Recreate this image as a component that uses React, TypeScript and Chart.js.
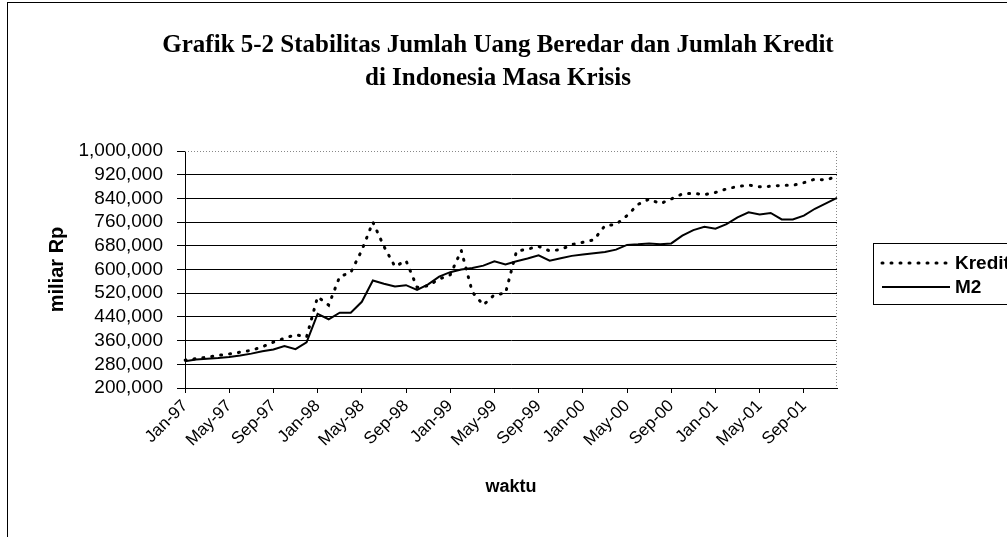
import React, { useEffect, useRef } from "react";
import { Chart, registerables } from "chart.js";

Chart.register(...registerables);

const months = [
  "Jan-97","Feb-97","Mar-97","Apr-97","May-97","Jun-97","Jul-97","Aug-97","Sep-97","Oct-97","Nov-97","Dec-97",
  "Jan-98","Feb-98","Mar-98","Apr-98","May-98","Jun-98","Jul-98","Aug-98","Sep-98","Oct-98","Nov-98","Dec-98",
  "Jan-99","Feb-99","Mar-99","Apr-99","May-99","Jun-99","Jul-99","Aug-99","Sep-99","Oct-99","Nov-99","Dec-99",
  "Jan-00","Feb-00","Mar-00","Apr-00","May-00","Jun-00","Jul-00","Aug-00","Sep-00","Oct-00","Nov-00","Dec-00",
  "Jan-01","Feb-01","Mar-01","Apr-01","May-01","Jun-01","Jul-01","Aug-01","Sep-01","Oct-01","Nov-01","Dec-01",
];

const kredit = [
  294000, 299000, 304000, 310000, 315000, 321000, 327000, 339000, 355000, 368000, 380000, 372000,
  508000, 480000, 576000, 590000, 665000, 760000, 678000, 610000, 630000, 540000, 545000, 568000,
  582000, 664000, 524000, 480000, 515000, 520000, 662000, 669000, 678000, 663000, 667000, 684000,
  692000, 700000, 748000, 752000, 782000, 820000, 838000, 822000, 838000, 855000, 857000, 853000,
  860000, 872000, 880000, 885000, 879000, 881000, 884000, 884000, 893000, 905000, 902000, 915000,
];

const m2 = [
  290000, 296000, 299000, 301000, 305000, 310000, 316000, 324000, 330000, 342000, 331000, 354000,
  450000, 432000, 454000, 454000, 491000, 563000, 552000, 543000, 547000, 531000, 550000, 576000,
  591000, 600000, 605000, 613000, 628000, 617000, 628000, 637000, 648000, 630000, 638000, 646000,
  651000, 655000, 659000, 667000, 683000, 685000, 688000, 685000, 688000, 714000, 733000, 744000,
  738000, 753000, 776000, 793000, 786000, 791000, 769000, 769000, 782000, 805000, 823000, 842000,
];

const yMin = 200000;
const yMax = 1000000;
const yStep = 80000;

const titleLines = [
  "Grafik 5-2 Stabilitas Jumlah Uang Beredar dan Jumlah Kredit",
  "di Indonesia Masa Krisis",
];
const yTitle = "miliar Rp";
const xTitle = "waktu";
const seriesNames = ["Kredit", "M2"];

const SANS = '"Liberation Sans", Arial, sans-serif';
const SERIF = '"Liberation Serif", "Times New Roman", serif';

const decorPlugin = {
  id: "decor",
  beforeDraw(chart: any) {
    const ctx = chart.ctx;
    ctx.save();
    ctx.fillStyle = "#fff";
    ctx.fillRect(0, 0, chart.width, chart.height);
    ctx.restore();
  },
  afterDraw(chart: any) {
    const ctx = chart.ctx;
    const { left, right, top, bottom } = chart.chartArea;
    ctx.save();
    // outer frame
    ctx.strokeStyle = "#000";
    ctx.lineWidth = 1;
    ctx.strokeRect(7.5, 2.5, chart.width + 20, chart.height + 20);
    // dotted plot border (top and right)
    ctx.strokeStyle = "#888";
    ctx.setLineDash([1, 2]);
    ctx.beginPath();
    ctx.moveTo(left, top + 0.5);
    ctx.lineTo(right, top + 0.5);
    ctx.moveTo(right - 0.5, top);
    ctx.lineTo(right - 0.5, bottom);
    ctx.stroke();
    ctx.setLineDash([]);
    // title
    ctx.fillStyle = "#000";
    ctx.textAlign = "center";
    ctx.textBaseline = "middle";
    ctx.font = `bold 25px ${SERIF}`;
    ctx.fillText(titleLines[0], 498, 46);
    ctx.fillText(titleLines[1], 498, 79);
    // legend
    const lx = 873.5, ly = 243.5;
    ctx.strokeStyle = "#000";
    ctx.lineWidth = 1;
    ctx.strokeRect(lx, ly, 200, 61);
    const ds = chart.data.datasets;
    const rows = [263, 287];
    rows.forEach((ry, i) => {
      const d = ds[i];
      ctx.save();
      ctx.strokeStyle = d.borderColor;
      ctx.lineWidth = d.borderWidth;
      ctx.lineCap = d.borderCapStyle || "butt";
      ctx.setLineDash(d.borderDash || []);
      ctx.beginPath();
      ctx.moveTo(882, ry);
      ctx.lineTo(950, ry);
      ctx.stroke();
      ctx.restore();
      ctx.fillStyle = "#000";
      ctx.textAlign = "left";
      ctx.textBaseline = "middle";
      ctx.font = `bold 19px ${SANS}`;
      ctx.fillText(d.label, 955, ry + 1);
    });
    ctx.restore();
  },
};

export default function App() {
  const ref = useRef<HTMLCanvasElement | null>(null);
  useEffect(() => {
    if (!ref.current) return;
    const chart = new Chart(ref.current, {
      type: "line",
      data: {
        labels: months,
        datasets: [
          {
            label: seriesNames[0],
            data: kredit,
            borderColor: "#000",
            borderWidth: 3,
            borderDash: [1, 8],
            borderCapStyle: "round",
            pointRadius: 0,
            tension: 0,
            fill: false,
          },
          {
            label: seriesNames[1],
            data: m2,
            borderColor: "#000",
            borderWidth: 2,
            pointRadius: 0,
            tension: 0,
            fill: false,
          },
        ],
      },
      options: {
        responsive: false,
        animation: false,
        events: [],
        layout: { padding: { left: 41, top: 151, right: 170, bottom: 35 } },
        plugins: {
          legend: { display: false },
          title: { display: false },
          tooltip: { enabled: false },
        },
        scales: {
          x: {
            type: "category",
            offset: false,
            grid: {
              display: true,
              drawOnChartArea: false,
              drawTicks: true,
              tickLength: 5,
              color: "#000",
              tickColor: (c: any) => (c.index % 4 === 0 ? "#000" : "rgba(0,0,0,0)"),
            },
            border: { display: true, color: "#000", width: 1 },
            ticks: {
              autoSkip: false,
              maxRotation: 45,
              minRotation: 45,
              padding: 3,
              color: "#000",
              font: { family: SANS, size: 17 },
              callback: (_v: any, i: number) => (i % 4 === 0 ? months[i] : ""),
            },
            title: {
              display: true,
              text: xTitle,
              color: "#000",
              font: { family: SANS, size: 18, weight: "bold" },
              padding: { top: 4, bottom: 4 },
            },
            afterFit: (s: any) => {
              s.height = 114;
            },
          },
          y: {
            type: "linear",
            min: yMin,
            max: yMax,
            grid: {
              color: (c: any) => (c.tick && c.tick.value === yMax ? "rgba(0,0,0,0)" : "#000"),
              tickColor: "#000",
              lineWidth: 1,
              tickLength: 8,
            },
            border: { display: true, color: "#000", width: 1 },
            ticks: {
              autoSkip: false,
              stepSize: yStep,
              padding: 14,
              color: "#000",
              font: { family: SANS, size: 19 },
              callback: (v: any) => Number(v).toLocaleString("en-US"),
            },
            title: {
              display: true,
              text: yTitle,
              color: "#000",
              font: { family: SANS, size: 20, weight: "bold" },
              padding: { top: 4, bottom: 4 },
            },
            afterFit: (s: any) => {
              s.width = 144;
            },
          },
        },
      },
      plugins: [decorPlugin],
    } as any);
    return () => chart.destroy();
  }, []);

  return (
    <div style={{ position: "fixed", left: 0, top: 0, width: 1007, height: 537, background: "#fff" }}>
      <canvas ref={ref} width={1007} height={537} style={{ display: "block" }} />
    </div>
  );
}
